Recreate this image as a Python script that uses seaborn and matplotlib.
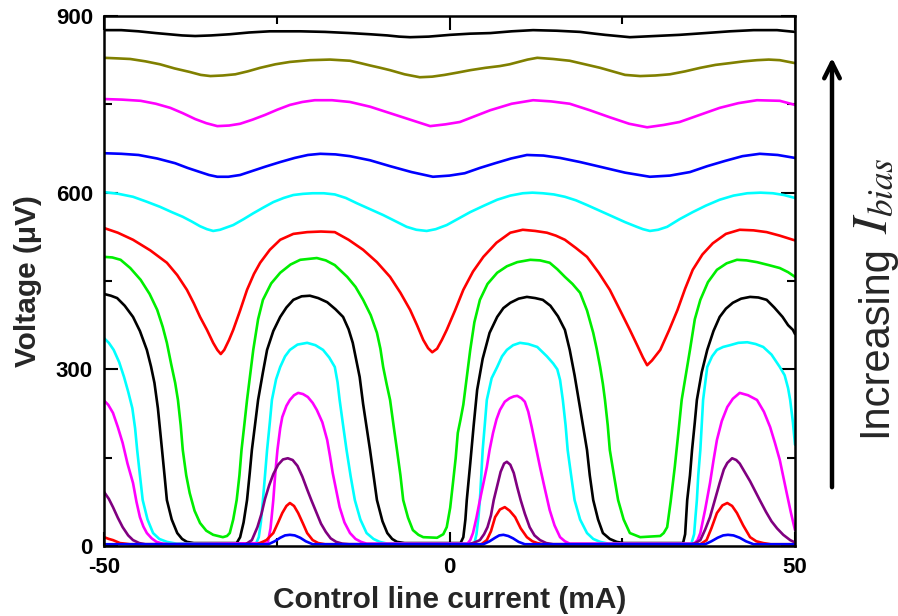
import numpy as np
import pandas as pd
import matplotlib
matplotlib.use("Agg")
import matplotlib.pyplot as plt
import seaborn as sns

# ---------------- data (control current in mA, voltage in uV) ----------------
x1 = [-50, -26.2, -25.3, -24.5, -23.8, -23.1, -22.4, -21.6, -20.8, -19.8, 4.9, 5.8, 6.6, 7.2, 7.8, 8.5, 9.2, 10.0, 10.9,
      37.0, 37.9, 38.8, 39.6, 40.3, 41.1, 42.0, 42.9, 44.0, 50]
v1 = [3, 3, 8, 14, 18, 19, 18, 14, 8, 3, 3, 8, 14, 18, 19, 17, 13, 7, 3, 3, 8, 14, 18, 19, 18, 14, 8, 3, 3]

x2 = [-50, -49.3, -48.7, -47.7, -46.2, -27.8, -26.5, -25.5, -24.8, -24.2, -23.6, -23.1, -22.5, -21.9, -21.2, -20.6,
      -19.8, -19.0, -18.0, 4.6, 5.4, 6.0, 6.6, 7.3, 8.0, 8.7, 9.5, 10.3, 11.2, 12.0, 12.7, 13.5, 36.3, 37.2, 37.9, 38.7,
      39.5, 40.2, 40.9, 41.6, 42.5, 43.5, 44.4, 45.4, 46.5, 50]
v2 = [15, 12, 10, 5, 3, 3, 10, 22, 40, 56, 68, 73, 68, 56, 38, 22, 10, 5, 3, 3, 10, 25, 49, 62, 66, 60, 49, 30, 15, 8,
      5, 3, 3, 10, 30, 56, 69, 73, 68, 56, 35, 15, 8, 5, 3, 3]

x3 = [-50, -49.3, -48.7, -48.0, -47.3, -46.5, -45.8, -44.9, -44.0,
      -29.5, -28.6, -27.8, -27.2, -26.7, -26.1, -25.5, -24.8, -24.1, -23.4, -22.7, -22.0, -21.3, -20.6, -20.0, -19.3,
      -18.6, -17.9, -17.2, -16.4, -15.5, -14.5,
      2.8, 3.6, 4.4, 5.0, 5.5, 6.0, 6.4, 6.9, 7.4, 7.9, 8.3, 8.8, 9.3, 9.8, 10.3, 10.9, 11.6, 12.3, 13.1, 14.0, 15.0,
      35.0, 35.6, 36.3, 37.0, 37.7, 38.4, 39.1, 39.7, 40.2, 40.9, 41.5, 42.0, 42.7, 43.5, 44.2, 44.9, 45.8, 46.6, 47.4,
      48.3, 49.3, 50]
v3 = [92, 80, 66, 48, 32, 18, 10, 5, 3,
      3, 10, 32, 55, 80, 103, 122, 138, 147, 149, 146, 136, 118, 96, 78, 58, 38, 24, 13, 7, 4, 3,
      3, 6, 10, 20, 32, 52, 78, 102, 126, 140, 143, 138, 124, 100, 78, 55, 32, 18, 10, 5, 3,
      3, 5, 10, 28, 49, 78, 107, 130, 141, 149, 146, 140, 126, 110, 94, 78, 58, 42, 30, 19, 10, 6]

x4 = [-50, -49.4, -48.7, -48.0, -47.3, -46.6, -45.8, -45.3, -44.8, -44.3, -43.8, -43.1, -42.4, -41.5, -40.5,
      -26.3, -25.9, -25.5, -25.2, -24.9, -24.5, -24.2, -23.6, -23.1, -22.5, -21.9, -21.2, -20.5, -19.8, -19.2, -18.4,
      -17.7, -17.3, -16.9, -16.4, -15.9, -15.2, -14.4, -13.6, -12.8, -12.0,
      2.6, 3.0, 3.4, 3.9, 4.4, 4.9, 5.4, 5.8, 6.3, 6.8, 7.3, 8.0, 8.7, 9.3, 9.8, 10.4, 10.9, 11.4, 11.9, 12.5, 13.1,
      13.8, 14.5, 15.2, 16.0, 16.7, 17.4,
      35.4, 35.9, 36.3, 37.0, 37.7, 38.2, 38.7, 39.4, 40.2, 41.0, 42.0, 43.2, 44.5, 45.5, 46.4, 47.1, 47.8, 48.3, 48.8,
      49.4, 50]
v4 = [247, 240, 226, 202, 175, 140, 107, 75, 49, 33, 22, 13, 7, 4, 3,
      5, 30, 78, 125, 163, 200, 219, 238, 248, 256, 260, 258, 253, 243, 231, 210, 180, 153, 124, 95, 66, 40, 22, 12, 7, 4,
      4, 10, 22, 48, 78, 106, 134, 163, 192, 215, 231, 245, 251, 254, 255, 251, 245, 228, 202, 168, 134, 97, 61, 35, 15,
      8, 4,
      4, 10, 22, 62, 107, 145, 180, 212, 236, 250, 260, 256, 248, 228, 202, 175, 146, 118, 90, 57, 27]

x5 = [-50, -49.3, -48.6, -47.8, -47.1, -46.5, -45.9, -45.5, -45.2, -44.8, -44.4, -43.7, -42.9, -42.0, -40.9, -39.5,
      -28.0, -27.6, -27.3, -27.0, -26.7, -26.4, -26.0, -25.7, -25.1, -24.5, -23.8, -23.1, -22.0, -20.6, -19.4, -18.3,
      -17.4, -16.6, -16.2, -15.9, -15.4, -14.9, -14.3, -13.7, -12.9, -12.0, -11.0, -10.1, -9.0,
      3.6, 3.9, 4.2, 4.4, 4.6, 4.8, 5.1, 5.4, 6.1, 6.9, 7.6, 8.3, 9.2, 10.2, 11.4, 12.7, 14.1, 15.0, 15.6, 16.0, 16.4,
      16.8, 17.1, 17.6, 18.1, 18.9, 19.9, 20.8, 21.8, 23.0,
      35.0, 35.4, 35.6, 35.8, 36.0, 36.3, 36.5, 36.7, 37.3, 38.0, 38.7, 39.6, 40.6, 41.8, 43.1, 44.3, 45.4, 46.6, 47.8,
      48.5, 49.0, 49.3, 49.7, 50]
v5 = [353, 345, 333, 312, 287, 262, 234, 200, 163, 120, 78, 45, 22, 12, 7, 4,
      4, 15, 40, 78, 120, 163, 210, 248, 283, 304, 322, 333, 342, 345, 341, 333, 320, 304, 278, 248, 205, 163, 118, 78,
      45, 22, 12, 7, 4,
      4, 20, 50, 78, 120, 163, 205, 248, 285, 304, 322, 333, 341, 345, 343, 338, 322, 310, 300, 282, 248, 205, 163, 120,
      78, 45, 22, 12, 7, 4,
      4, 20, 50, 78, 120, 163, 205, 248, 304, 322, 333, 338, 341, 345, 346, 343, 338, 325, 304, 290, 268, 248, 210, 172]

x6 = [-50, -49.0, -48.1, -47.0, -45.8, -44.8, -43.8, -43.2, -42.7, -42.2, -41.6, -41.2, -40.9, -40.2, -39.4, -38.7,
      -38.0, -37.0,
      -30.8, -30.3, -29.8, -29.3, -28.9, -28.6, -28.1, -27.7, -27.0, -26.4, -25.5, -24.5, -23.6, -22.6, -21.4, -20.2,
      -19.0, -17.7, -16.5, -15.4, -14.6, -14.0, -13.0, -12.5, -11.5, -10.5, -9.7, -9.0, -8.3, -7.6, -6.5,
      1.6, 2.0, 2.3, 2.5, 3.0, 3.5, 4.0, 4.8, 5.8, 6.9, 7.8, 8.8, 10.0, 11.2, 12.4, 13.5, 14.6, 15.7, 16.7, 17.4, 18.1,
      18.9, 19.9, 20.3, 20.8, 21.5, 22.2, 23.2, 24.2, 25.2,
      33.8, 34.1, 34.4, 34.8, 35.1, 35.5, 35.8, 36.5, 37.3, 38.2, 39.1, 40.0, 41.0, 42.2, 43.5, 44.7, 45.9, 47.0, 48.2,
      49.0, 49.7, 50]
v6 = [428, 425, 421, 408, 389, 365, 333, 305, 277, 234, 163, 115, 78, 45, 22, 12, 7, 5,
      5, 15, 40, 78, 125, 163, 210, 248, 295, 333, 365, 389, 405, 418, 424, 425, 421, 414, 402, 389, 368, 345, 287, 241,
      163, 78, 42, 22, 12, 7, 5,
      5, 15, 45, 78, 140, 205, 265, 318, 362, 389, 404, 413, 420, 423, 421, 418, 408, 390, 367, 333, 290, 234, 163, 120,
      78, 45, 22, 12, 7, 5,
      5, 20, 78, 120, 163, 210, 248, 295, 333, 365, 389, 403, 413, 420, 423, 422, 418, 405, 389, 375, 367, 360]

x7 = [-50, -48.8, -47.6, -46.2, -44.7, -43.4, -42.3, -41.5, -40.9, -40.3, -39.7, -39.3, -38.9, -38.6, -38.1, -37.6,
      -36.9, -36.1, -35.2, -34.2, -32.8, -32.2, -31.8, -31.3, -30.8, -30.4, -30.1, -29.7, -29.3, -28.4, -27.7, -27.0,
      -25.8, -24.5, -23.0, -21.6, -19.2, -17.9, -16.6, -14.8, -13.6, -12.5, -11.4, -10.5, -10.0, -9.6, -9.1, -8.6,
      -8.1, -7.6, -7.1, -6.7, -6.0, -5.3, -4.5, -3.8, -1.8, -0.9, -0.4, 0.1, 0.5, 0.9, 1.2, 1.6, 2.0, 3.0, 3.6, 4.4,
      5.5, 6.9, 8.3, 9.8, 11.7, 13.1, 14.5, 15.6, 16.7, 17.8, 18.9, 19.9, 20.8, 21.3, 21.8, 22.2, 22.5, 22.9, 23.2,
      23.8, 24.4, 25.2, 26.1, 27.6, 29.0, 30.5, 31.0, 31.5, 32.0, 32.6, 33.1, 33.6, 34.8, 35.5, 36.3, 37.4, 38.7,
      40.1, 41.6, 43.0, 44.5, 46.2, 47.8, 49.0, 50]
v7 = [491, 490, 486, 472, 452, 428, 401, 372, 345, 310, 277, 248, 205, 163, 120, 90,
      60, 39, 26, 19, 15, 17, 22, 45, 78, 120, 163, 205, 248, 333, 385, 418,
      446, 464, 478, 486, 489, 485, 477, 457, 440, 418, 392, 362, 335, 304, 275, 248,
      205, 163, 120, 78, 48, 27, 19, 15, 14, 20, 32, 65, 107, 150, 192, 215, 240, 333, 380, 418,
      445, 464, 475, 482, 486, 485, 481, 470, 457, 445, 430, 400, 362, 335, 304, 275, 248, 205, 163,
      120, 78, 45, 22, 15, 16, 17, 22, 32, 75, 134, 190, 248, 333, 385, 418, 448, 469,
      480, 486, 485, 482, 477, 472, 465, 457]

x8 = [-50, -48.0, -45.8, -43.3, -40.9, -39.4, -38.0, -37.0, -36.1, -35.1, -34.2, -33.6, -33.1, -32.6, -31.9, -31.3,
      -30.3, -29.3, -28.3, -27.4, -26.0, -24.5, -22.6, -20.6, -18.6, -16.6, -14.6, -12.5, -10.5, -8.6, -7.1, -5.7,
      -4.7, -3.8, -3.1, -2.5, -1.8, -1.1, -0.4, 0.8, 2.0, 3.4, 4.9, 6.8, 8.8, 10.6, 12.4, 14.1, 15.4, 16.7, 18.3,
      19.9, 21.6, 23.2, 24.7, 26.1, 27.2, 28.0, 28.6, 29.3, 30.5, 31.8, 33.0, 34.1, 35.2, 36.6, 38.1, 40.0, 42.0,
      44.0, 45.9, 47.8, 49.7, 50]
v8 = [540, 532, 520, 502, 481, 460, 435, 412, 389, 367, 345, 333, 326, 333, 350, 367,
      400, 435, 462, 481, 503, 520, 530, 533, 534, 533, 520, 503, 482, 457, 430, 401,
      375, 350, 336, 329, 335, 350, 367, 400, 435, 466, 491, 515, 532, 537, 535, 532, 527, 520, 506,
      491, 464, 435, 400, 367, 340, 320, 307, 315, 333, 367, 401, 437, 469, 495, 514, 530, 537,
      536, 533, 527, 520, 519]

x9 = [-50, -47.9, -45.8, -43.9, -41.9, -40.2, -38.6, -37.3, -36.1, -35.1, -34.2, -33.2, -31.3, -29.8, -28.4, -26.9,
      -25.5, -24.0, -22.6, -21.2, -19.8, -18.2, -16.6, -15.0, -13.4, -11.5, -9.6, -7.9, -6.2, -4.8, -3.3, -2.0, -0.4,
      1.3, 3.0, 5.0, 6.9, 8.8, 10.6, 12.0, 13.5, 15.1, 16.7, 18.3, 19.9, 21.8, 23.7, 25.4, 27.1, 28.0, 29.0, 30.2, 31.5,
      33.3, 35.2, 37.1, 39.1, 41.1, 43.1, 45.0, 46.8, 48.4, 50]
v9 = [601, 598, 593, 585, 576, 567, 559, 551, 543, 538, 535, 537, 545, 555, 565, 575,
      584, 591, 596, 598, 599, 599, 597, 591, 582, 572, 562, 552, 542, 537, 535, 538, 545,
      556, 567, 578, 588, 595, 599, 600, 599, 597, 593, 587, 579, 569, 559, 550, 542, 538, 535, 537, 542,
      555, 567, 578, 588, 595, 599, 600, 599, 596, 591]

x10 = [-50, -47.5, -45.0, -42.3, -39.7, -37.9, -36.1, -34.8, -33.6, -32.0, -30.3, -28.5, -26.7, -24.5, -22.4, -20.5,
       -18.7, -16.5, -14.4, -11.5, -8.6, -5.5, -2.4, 0, 2.2, 4.4, 6.6, 8.9, 11.2, 13.6, 16.0, 18.9, 21.8, 25.4, 29.0,
       31.9, 34.8, 37.3, 39.9, 42.4, 44.9, 47.5, 50]
v10 = [667, 666, 664, 658, 650, 642, 635, 630, 627, 627, 630, 637, 644, 652, 659, 664,
       666, 665, 662, 655, 645, 635, 627, 629, 633, 642, 650, 658, 664, 663, 659, 652, 644, 634, 627,
       629, 635, 645, 654, 662, 666, 664, 659]

x11 = [-50, -47.4, -44.7, -42.5, -40.4, -38.6, -36.8, -35.2, -33.6, -31.9, -30.3, -28.5, -26.7, -24.9, -23.1, -21.3,
       -19.5, -17.0, -14.4, -11.5, -8.6, -5.7, -2.8, -0.6, 1.5, 3.7, 5.9, 9.0, 12.1, 14.7, 17.4, 20.3, 23.2, 26.0,
       28.6, 31.0, 33.3, 36.2, 39.1, 41.8, 44.5, 47.8, 50]
v11 = [759, 758, 756, 751, 744, 735, 725, 718, 713, 714, 717, 724, 732, 741, 749, 754,
       757, 757, 754, 746, 735, 724, 713, 716, 720, 730, 740, 751, 757, 755, 751, 740, 728, 717,
       711, 715, 720, 732, 744, 752, 757, 756, 749]

x12 = [-50, -48.0, -46.2, -44.0, -41.9, -39.8, -37.6, -36.0, -34.6, -32.8, -31.0, -29.2, -27.4, -25.2, -23.1, -20.2,
       -17.3, -14.4, -12.9, -11.5, -10.0, -8.6, -6.5, -4.3, -2.5, -0.7, 1.2, 3.0, 5.2, 7.3, 8.7, 10.0, 11.3, 12.7,
       15.0, 17.4, 19.6, 21.8, 23.6, 25.4, 27.6, 29.8, 31.9, 34.1, 36.3, 38.5, 40.6, 42.6, 44.5, 46.2, 47.8, 50]
v12 = [829, 828, 827, 823, 818, 811, 805, 800, 798, 799, 801, 806, 812, 818, 822, 825,
       826, 824, 820, 816, 812, 808, 801, 796, 797, 800, 804, 808, 812, 815, 818, 822, 826, 829,
       827, 824, 818, 812, 806, 800, 798, 799, 801, 806, 812, 817, 820, 823, 825, 826, 825, 820]

x13 = [-50, -47.5, -45.0, -42.5, -40.6, -38.7, -36.8, -34.5, -31.8, -29.0, -26.0, -23.8, -21.6, -18.0, -14.4, -11.5,
       -9.0, -7.3, -5.7, -3.0, 0.1, 3.0, 5.9, 9.0, 12.1, 15.5, 18.9, 21.0, 22.5, 24.3, 26.1, 29.7, 33.3, 37.0, 40.6,
       44.0, 47.4, 50]
v13 = [876, 876, 874, 871, 869, 867, 866, 867, 869, 872, 874, 874, 874, 873, 871, 869,
       867, 865, 864, 865, 868, 870, 871, 874, 876, 875, 873, 870, 868, 866, 864, 866, 868, 871, 874,
       876, 876, 873]

curve_names = ["c1", "c2", "c3", "c4", "c5", "c6", "c7", "c8", "c9", "c10", "c11", "c12", "c13"]
curve_colors = ["#0000FF", "#FF0000", "#800080", "#FF00FF", "#00FFFF", "#000000", "#00EE00",
                "#FF0000", "#00FFFF", "#0000FF", "#FF00FF", "#808000", "#000000"]
xs = [x1, x2, x3, x4, x5, x6, x7, x8, x9, x10, x11, x12, x13]
vs = [v1, v2, v3, v4, v5, v6, v7, v8, v9, v10, v11, v12, v13]

x_ticks = [-50, 0, 50]
y_ticks = [0, 300, 600, 900]

# ---------------- build table ----------------
frames = []
for name, xx, vv in zip(curve_names, xs, vs):
    frames.append(pd.DataFrame({"x": xx, "V": vv, "curve": name}))
df = pd.concat(frames, ignore_index=True)

sns.set_style("ticks")
plt.rcParams["font.family"] = ["Liberation Sans", "DejaVu Sans"]
plt.rcParams["mathtext.fontset"] = "stix"
plt.rcParams["axes.unicode_minus"] = False
plt.rcParams["lines.solid_joinstyle"] = "round"

fig = plt.figure(figsize=(8.98, 6.16), dpi=100)
ax = fig.add_axes([104 / 898, 1 - 546 / 616, (795 - 104) / 898, (546 - 16) / 616])

order = curve_names[::-1]  # top curves first, bottom curves drawn last
palette = dict(zip(curve_names, curve_colors))
sns.lineplot(data=df, x="x", y="V", hue="curve", hue_order=order, palette=palette,
             estimator=None, sort=False, legend=False, linewidth=1.9, ax=ax)

ax.set_xlim(-50, 50)
ax.set_ylim(0, 900)
ax.set_xticks(x_ticks)
ax.set_yticks(y_ticks)
ax.set_xticks([-25, 25], minor=True)
ax.set_yticks([150, 450, 750], minor=True)
ax.tick_params(which="both", direction="in", top=True, right=True, width=1.5, colors="black")
ax.tick_params(which="major", length=10, labelsize=16, pad=8)
ax.tick_params(which="minor", length=6)
for lab in ax.get_xticklabels() + ax.get_yticklabels():
    lab.set_fontweight("bold")
for sp in ax.spines.values():
    sp.set_linewidth(1.8)
    sp.set_color("black")

ax.set_xlabel("Control line current (mA)", fontsize=21.5, fontweight="bold", labelpad=6)
ax.set_ylabel("Voltage (\u03bcV)", fontsize=21.5, fontweight="bold", labelpad=10)

# arrow and annotation on the right
fig.patches.append(matplotlib.patches.FancyArrowPatch(
    (832 / 898, 1 - 490 / 616), (832 / 898, 1 - 55 / 616), transform=fig.transFigure,
    arrowstyle="->", mutation_scale=28, linewidth=3.2, color="black"))
fig.text(886 / 898, 1 - 437 / 616, "Increasing", rotation=90, rotation_mode="anchor",
         fontsize=30, ha="left", va="baseline", family=["Liberation Sans", "DejaVu Sans"])
fig.text(886 / 898, 1 - 234 / 616, r"$I_{bias}$", rotation=90, rotation_mode="anchor",
         fontsize=36, ha="left", va="baseline")

fig.savefig("out.png", dpi=100)
